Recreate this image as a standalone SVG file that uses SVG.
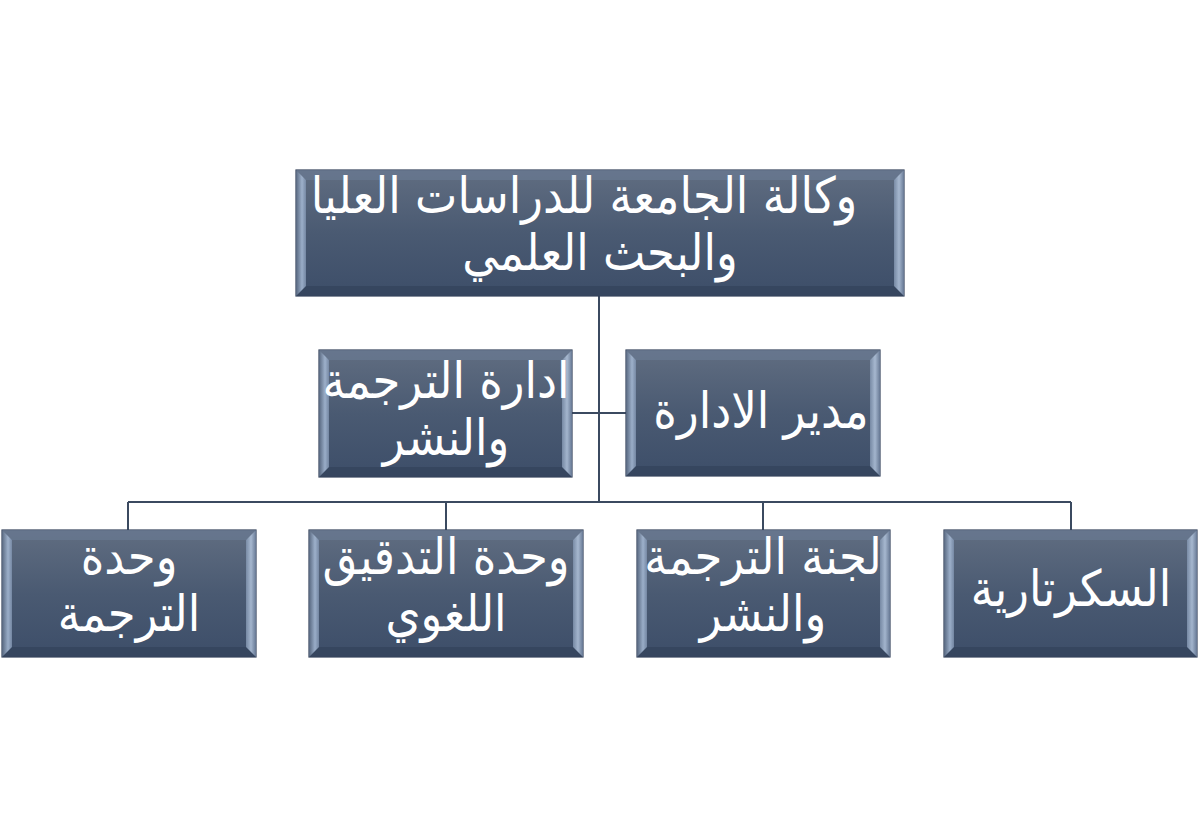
<svg xmlns="http://www.w3.org/2000/svg" width="1200" height="829" viewBox="0 0 1200 829">
<defs>
<linearGradient id="body" x1="0" y1="0" x2="0" y2="1">
<stop offset="0" stop-color="#606d81"/>
<stop offset="0.5" stop-color="#4a5a72"/>
<stop offset="1" stop-color="#3d4e69"/>
</linearGradient>
<linearGradient id="lb" x1="0" y1="0" x2="1" y2="0">
<stop offset="0" stop-color="#5a6a82"/>
<stop offset="0.6" stop-color="#a9bdd8"/>
<stop offset="1" stop-color="#7c8fab"/>
</linearGradient>
<linearGradient id="rb" x1="1" y1="0" x2="0" y2="0">
<stop offset="0" stop-color="#6d7f9b"/>
<stop offset="0.5" stop-color="#b4c6de"/>
<stop offset="1" stop-color="#7f92ad"/>
</linearGradient>
</defs>
<style>
.box{fill:url(#body);stroke:#34425a;stroke-width:1.2}
.lbev{fill:url(#lb);opacity:0.85}
.rbev{fill:url(#rb);opacity:0.85}
.tbev{fill:#687890;opacity:0.8}
.bbev{fill:#34445c;opacity:0.8}
.t{fill:#ffffff;font-family:"DejaVu Sans",sans-serif;font-size:50px;text-anchor:middle}
.c{fill:none;stroke:#3b4a60;stroke-width:2}
</style>
<rect width="1200" height="829" fill="#ffffff"/>
<g id="connectors">
<path class="c" d="M599 296 V502"/>
<path class="c" d="M572 413 H626"/>
<path class="c" d="M128 502 H1071"/>
<path class="c" d="M128 502 V530 M446 502 V530 M763 502 V530 M1071 502 V530"/>
</g>
<g id="n0">
<rect class="box" x="296" y="170" width="608" height="126"/>
<polygon class="tbev" points="296,170 904,170 894,180 306,180"/>
<polygon class="bbev" points="296,296 904,296 894,286 306,286"/>
<polygon class="lbev" points="296,170 306,180 306,286 296,296"/>
<polygon class="rbev" points="904,170 894,180 894,286 904,296"/>
<text class="t" direction="rtl" transform="translate(584,0) scale(0.9,1)" x="0" y="213">وكالة الجامعة للدراسات العليا</text>
<text class="t" direction="rtl" transform="translate(600,0) scale(0.9,1)" x="0" y="270">والبحث العلمي</text>
</g>
<g id="n1">
<rect class="box" x="319" y="350" width="253" height="127"/>
<polygon class="tbev" points="319,350 572,350 562,360 329,360"/>
<polygon class="bbev" points="319,477 572,477 562,467 329,467"/>
<polygon class="lbev" points="319,350 329,360 329,467 319,477"/>
<polygon class="rbev" points="572,350 562,360 562,467 572,477"/>
<text class="t" direction="rtl" transform="translate(446,0) scale(0.9,1)" x="0" y="398">ادارة الترجمة</text>
<text class="t" direction="rtl" transform="translate(446,0) scale(0.9,1)" x="0" y="455">والنشر</text>
</g>
<g id="n2">
<rect class="box" x="626" y="350" width="254" height="126"/>
<polygon class="tbev" points="626,350 880,350 870,360 636,360"/>
<polygon class="bbev" points="626,476 880,476 870,466 636,466"/>
<polygon class="lbev" points="626,350 636,360 636,466 626,476"/>
<polygon class="rbev" points="880,350 870,360 870,466 880,476"/>
<text class="t" direction="rtl" transform="translate(761,0) scale(0.9,1)" x="0" y="428">مدير الادارة</text>
</g>
<g id="n3">
<rect class="box" x="2" y="530" width="254" height="127"/>
<polygon class="tbev" points="2,530 256,530 246,540 12,540"/>
<polygon class="bbev" points="2,657 256,657 246,647 12,647"/>
<polygon class="lbev" points="2,530 12,540 12,647 2,657"/>
<polygon class="rbev" points="256,530 246,540 246,647 256,657"/>
<text class="t" direction="rtl" transform="translate(129,0) scale(0.9,1)" x="0" y="574">وحدة</text>
<text class="t" direction="rtl" transform="translate(129,0) scale(0.9,1)" x="0" y="631">الترجمة</text>
</g>
<g id="n4">
<rect class="box" x="309" y="530" width="274" height="127"/>
<polygon class="tbev" points="309,530 583,530 573,540 319,540"/>
<polygon class="bbev" points="309,657 583,657 573,647 319,647"/>
<polygon class="lbev" points="309,530 319,540 319,647 309,657"/>
<polygon class="rbev" points="583,530 573,540 573,647 583,657"/>
<text class="t" direction="rtl" transform="translate(446,0) scale(0.9,1)" x="0" y="574">وحدة التدقيق</text>
<text class="t" direction="rtl" transform="translate(446,0) scale(0.9,1)" x="0" y="631">اللغوي</text>
</g>
<g id="n5">
<rect class="box" x="637" y="530" width="253" height="127"/>
<polygon class="tbev" points="637,530 890,530 880,540 647,540"/>
<polygon class="bbev" points="637,657 890,657 880,647 647,647"/>
<polygon class="lbev" points="637,530 647,540 647,647 637,657"/>
<polygon class="rbev" points="890,530 880,540 880,647 890,657"/>
<text class="t" direction="rtl" transform="translate(763,0) scale(0.9,1)" x="0" y="574">لجنة الترجمة</text>
<text class="t" direction="rtl" transform="translate(763,0) scale(0.9,1)" x="0" y="631">والنشر</text>
</g>
<g id="n6">
<rect class="box" x="944" y="530" width="253" height="127"/>
<polygon class="tbev" points="944,530 1197,530 1187,540 954,540"/>
<polygon class="bbev" points="944,657 1197,657 1187,647 954,647"/>
<polygon class="lbev" points="944,530 954,540 954,647 944,657"/>
<polygon class="rbev" points="1197,530 1187,540 1187,647 1197,657"/>
<text class="t" direction="rtl" transform="translate(1071,0) scale(0.9,1)" x="0" y="606">السكرتارية</text>
</g>
</svg>
